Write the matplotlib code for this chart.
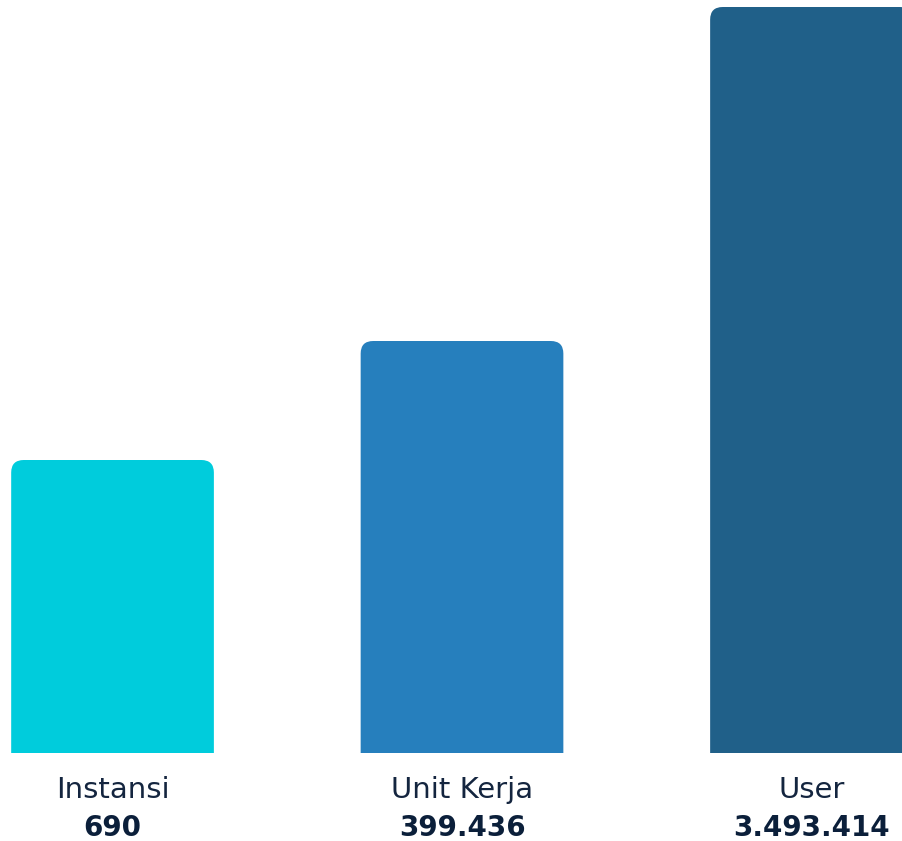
import matplotlib.pyplot as plt
from matplotlib.patches import FancyBboxPatch

categories = ['Instansi', 'Unit Kerja', 'User']
value_labels = ['690', '399.436', '3.493.414']
# bar heights as drawn in the picture (not proportional to the values)
bar_heights = [293, 412, 746]
colors = ['#00CCDC', '#267FBD', '#206089']

fig = plt.figure(figsize=(9.02, 8.41), dpi=100)
ax = fig.add_axes([0, 1 - 753 / 841, 1, 753 / 841])

x = list(range(len(categories)))
width = 0.58
bars = ax.bar(x, bar_heights, width=width, color=colors)
ax.set_xlim(-0.322, 2.259)
ax.set_ylim(0, 753)
ax.axis('off')

# swap plain bars for bars with rounded top corners;
# the box runs below y=0 so the axes clip hides the bottom corners
aspect = 349.5  # pixels per x unit / pixels per y unit
for b in bars:
    bx, bw, bh = b.get_x(), b.get_width(), b.get_height()
    col = b.get_facecolor()
    b.set_visible(False)
    ax.add_patch(FancyBboxPatch(
        (bx, -30), bw, bh + 30, boxstyle='round,pad=0,rounding_size=0.036',
        mutation_aspect=aspect, facecolor=col, edgecolor='none'
    ))

for xi, cat, val in zip(x, categories, value_labels):
    ax.annotate(cat, (xi, 0), xycoords=('data', 'axes fraction'),
                xytext=(0, -26.5), textcoords='offset points',
                ha='center', va='center', fontsize=21, color='#14253F',
                annotation_clip=False)
    ax.annotate(val, (xi, 0), xycoords=('data', 'axes fraction'),
                xytext=(0, -54), textcoords='offset points',
                ha='center', va='center', fontsize=20, fontweight='bold',
                color='#0B1F3A', annotation_clip=False)

fig.savefig('out.png', dpi=100)
